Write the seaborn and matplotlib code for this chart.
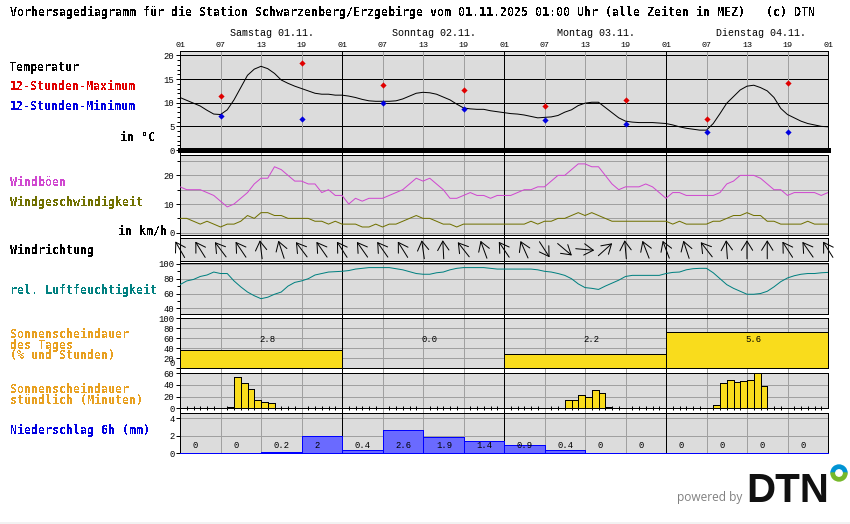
import numpy as np
import seaborn as sns
from matplotlib import pyplot as plt
from matplotlib.patches import Wedge, Circle

sns.set_theme(style="white")
plt.rcParams["font.family"] = ["DejaVu Sans Mono"]
plt.rcParams["text.color"] = "black"
plt.rcParams["ytick.labelcolor"] = "black"
plt.rcParams["lines.antialiased"] = False
plt.rcParams["patch.antialiased"] = False

W, H = 850, 524
X0, X1 = 180, 828
PX = 0.72  # one pixel in points
SMALL = "Liberation Mono"

hours = list(range(97))
temperature = [11.1, 10.5, 9.9, 9.3, 8.4, 7.6, 7.5, 8.5, 10.6, 13.2, 15.8, 17.1,
               17.7, 17.2, 16.2, 14.8, 14.1, 13.5, 13.0, 12.5, 12.0, 11.8, 11.8, 11.6,
               11.6, 11.4, 11.1, 10.7, 10.4, 10.3, 10.3, 10.3, 10.4, 10.8, 11.4, 12.0,
               12.2, 12.1, 11.8, 11.2, 10.6, 9.7, 8.9, 8.7, 8.6, 8.6, 8.3, 8.1,
               7.9, 7.7, 7.6, 7.4, 7.1, 6.8, 6.9, 7.0, 7.3, 8.0, 8.5, 9.4,
               9.9, 10.1, 10.1, 9.0, 7.9, 6.8, 6.1, 5.9, 5.8, 5.8, 5.8, 5.7,
               5.6, 5.3, 4.9, 4.6, 4.4, 4.2, 4.2, 5.6, 7.7, 9.9, 11.3, 12.7,
               13.5, 13.7, 13.2, 12.5, 11.1, 8.8, 7.5, 6.8, 6.1, 5.6, 5.3, 5.0, 4.9]
extreme_hours = [6, 18, 30, 42, 54, 66, 78, 90]
temp_max = [11.5, 18.3, 13.7, 12.6, 9.4, 10.5, 6.5, 14.1]
temp_min = [7.1, 6.5, 9.9, 8.6, 6.3, 5.6, 3.9, 3.9]

gusts = [16, 15, 15, 15, 14, 13, 11, 9, 10, 12, 14, 17,
         19, 19, 23, 22, 20, 18, 18, 17, 17, 14, 15, 13,
         13, 10, 12, 11, 12, 12, 12, 13, 14, 15, 17, 19,
         18, 19, 17, 15, 12, 12, 13, 14, 13, 13, 12, 13,
         13, 13, 14, 15, 15, 16, 16, 18, 20, 20, 22, 24,
         24, 23, 23, 20, 17, 15, 16, 16, 16, 17, 16, 14,
         12, 14, 14, 13, 13, 13, 13, 13, 14, 17, 18, 20,
         20, 20, 19, 17, 15, 15, 13, 14, 14, 14, 14, 13, 14]
wind_speed = [5, 5, 4, 3, 4, 3, 2, 3, 3, 4, 6, 5,
              7, 7, 6, 6, 5, 5, 5, 5, 4, 4, 3, 4,
              3, 3, 3, 2, 2, 3, 2, 3, 3, 4, 5, 6,
              5, 5, 4, 3, 3, 2, 3, 3, 3, 3, 3, 3,
              3, 3, 3, 3, 4, 3, 4, 4, 5, 5, 6, 7,
              6, 7, 6, 5, 4, 4, 4, 4, 4, 4, 4, 4,
              4, 3, 4, 3, 3, 3, 3, 4, 4, 5, 6, 6,
              7, 6, 6, 4, 4, 3, 3, 3, 3, 4, 3, 3, 3]
arrow_hours = list(range(0, 97, 3))
wind_dir = [-30, -32, -37, -34, -7, -18, -37, -35, -33, -35, -35, -32, -8,
            -3, -38, -20, -34, -24, 147, 130, 95, 48, -5, -21, -21, -18,
            -38, -4, 0, 0, -33, -35, -32]
humidity = [72, 77, 79, 83, 85, 89, 87, 87, 77, 69, 62, 57,
            53, 55, 59, 62, 70, 75, 77, 80, 85, 87, 89, 89.5,
            90, 91, 93, 94, 95, 95, 95, 95, 93.5, 92, 89.5, 87,
            86, 86, 88, 89, 92, 94, 95, 95, 95, 95, 94, 93,
            93, 93, 93, 93, 93, 92, 90, 89, 87, 84.5, 80, 73,
            68, 67, 65.5, 70, 74, 78, 83, 84.5, 84.5, 84.5, 84.5, 84.5,
            87, 88.5, 89, 92, 93.5, 94, 94, 88, 80, 72, 67, 63,
            59, 59, 60, 63, 69, 76, 81, 84, 86, 87, 87, 88, 88.5]

day_starts = [0, 24, 48, 72]
day_names = ["Samstag 01.11.", "Sonntag 02.11.", "Montag 03.11.", "Dienstag 04.11."]
sun_day_pct = [36, 0, 28, 72]
sun_day_hours = ["2.8", "0.0", "2.2", "5.6"]

sun_hours = [7, 8, 9, 10, 11, 12, 13, 14,
             56, 57, 58, 59, 60, 61, 62, 63,
             79, 80, 81, 82, 83, 84, 85, 86, 87]
sun_minutes = [3, 53, 43, 33, 15, 10, 8.5, 1,
               1, 14, 15, 22, 20, 31, 26, 3,
               5, 43, 48, 45, 47, 48, 60, 39, 1]

rain_starts = list(range(0, 96, 6))
rain_mm = [0, 0, 0.2, 2, 0.4, 2.6, 1.9, 1.4, 0.9, 0.4, 0, 0, 0, 0, 0, 0]
rain_labels = ["0", "0", "0.2", "2", "0.4", "2.6", "1.9", "1.4", "0.9", "0.4",
               "0", "0", "0", "0", "0", "0"]
hour_labels = ["01", "07", "13", "19"] * 4 + ["01"]

BG = "#dcdcdc"
GRID = "#a0a0a0"
MAGENTA = "#d048d0"
OLIVE = "#707000"
TEAL = "#008080"
ORANGE = "#e8a020"
YELLOW = "#f9dc1c"
RAIN = "#6a6aff"

fig = plt.figure(figsize=(W / 100, H / 100), dpi=100)


def label(x, y, text, color="black", size=8.4, weight="bold", ha="left", **kw):
    fig.text(x / W, 1 - y / H, text, color=color, fontsize=size, fontweight=weight,
             ha=ha, va="center", antialiased=False, **kw)


def panel(top, bottom, ylim, majors=(), minors=(), grid=GRID):
    ax = fig.add_axes([X0 / W, 1 - bottom / H, (X1 - X0) / W, (bottom - top) / H])
    ax.set_facecolor(BG)
    ax.set_xlim(0, 96)
    ax.set_ylim(*ylim)
    for s in ax.spines.values():
        s.set_color("black")
        s.set_linewidth(PX)
    ax.set_xticks([])
    ax.set_yticks(list(majors))
    ax.set_yticks(list(minors), minor=True)
    ax.tick_params(axis="y", which="major", length=3, width=PX, color="black",
                   labelsize=6.4, pad=1, left=True, labelfontfamily=SMALL)
    ax.tick_params(axis="y", which="minor", length=2.5, width=PX, color="black", left=True)
    for v in majors:
        ax.axhline(v, color=grid, lw=PX, zorder=1)
    for h in range(0, 97, 6):
        black = h % 24 == 0
        ax.axvline(h, color="black" if black else GRID, lw=PX, zorder=1.2 if black else 1)
    return ax


def line(ax, y, color):
    # sloped lines come out two pixels wide when aliased, so these stay smooth
    sns.lineplot(ax=ax, x=hours, y=y, color=color, lw=PX, estimator=None, errorbar=None,
                 zorder=3, antialiased=True)


# vertical lines also run through the white gaps
bg = fig.add_axes([X0 / W, 1 - 453.3 / H, (X1 - X0) / W, (453.3 - 50.7) / H], zorder=-1)
bg.set_xlim(0, 96)
bg.axis("off")
for h in range(0, 97, 6):
    bg.axvline(h, color="black" if h % 24 == 0 else GRID, lw=PX)

# temperature
ax_t = panel(50.7, 150, (0, 21), majors=[0, 5, 10, 15, 20], grid="black",
             minors=[v for v in range(1, 21) if v % 5])
line(ax_t, temperature, "black")
sns.scatterplot(ax=ax_t, x=extreme_hours, y=temp_max, color="#e00000", marker="D", s=10,
                linewidth=0, zorder=4)
sns.scatterplot(ax=ax_t, x=extreme_hours, y=temp_min, color="#0000e0", marker="D", s=10,
                linewidth=0, zorder=4)
ax_t.spines["bottom"].set_linewidth(2.2)
for h, txt in zip(range(0, 97, 6), hour_labels):
    ax_t.text(h, 1.015, txt, transform=ax_t.get_xaxis_transform(), ha="center", va="bottom",
              fontsize=6, family=SMALL)
for start, name, shift in zip(day_starts, day_names, [13.6, 13.6, 13.6, 14]):
    ax_t.text(start + shift, 1.125, name, transform=ax_t.get_xaxis_transform(), ha="center",
              va="bottom", fontsize=7.2, family=SMALL)

# wind
ax_w = panel(155, 235.3, (-0.9, 27.1), majors=[0, 10, 20], minors=[5, 15, 25])
ax_w.axhline(5, color=GRID, lw=PX, zorder=1)
ax_w.axhline(15, color=GRID, lw=PX, zorder=1)
ax_w.axhline(25, color=GRID, lw=PX, zorder=1)
line(ax_w, gusts, MAGENTA)
line(ax_w, wind_speed, OLIVE)

# wind direction, y axis is in pixels here so the arrows keep their length
ax_d = panel(238.3, 260.7, (-11.2, 11.2))
half = 9.3
for h, deg in zip(arrow_hours, wind_dir):
    dx = np.sin(np.radians(deg)) * half / 6.75
    dy = np.cos(np.radians(deg)) * half
    ax_d.annotate("", xy=(h + dx, dy), xytext=(h - dx, -dy), annotation_clip=False, zorder=5,
                  arrowprops=dict(arrowstyle="->,head_length=0.55,head_width=0.34",
                                  mutation_scale=12, color="black", lw=PX, antialiased=True,
                                  shrinkA=0, shrinkB=0))

# humidity
ax_h = panel(263.3, 313.5, (33, 100.8), majors=[40, 60, 80, 100], minors=[50, 70, 90])
line(ax_h, humidity, TEAL)

# sunshine per day
ax_s = panel(318.3, 368.3, (0, 100), majors=[0, 20, 40, 60, 80, 100])
sns.histplot(ax=ax_s, x=day_starts, weights=sun_day_pct, bins=list(range(0, 97, 24)),
             color=YELLOW, edgecolor="black", linewidth=PX, alpha=1, zorder=3)
for start, txt in zip(day_starts, sun_day_hours):
    ax_s.text(start + 13, 57, txt, ha="center", va="center", fontsize=6.4, zorder=6, family=SMALL)
ax_s.set_ylabel("")
# the 0 sits right on top of the 60 of the panel below
ax_s.get_yticklabels()[0].set_verticalalignment("bottom")

# sunshine per hour
ax_m = panel(373.3, 408.3, (0, 60), majors=[0, 20, 40, 60])
sns.histplot(ax=ax_m, x=sun_hours, weights=sun_minutes, bins=list(range(0, 97)),
             color=YELLOW, edgecolor="black", linewidth=PX, alpha=1, zorder=3)
ax_m.set_ylabel("")
ax_m.set_ylim(0, 60)
ax_m.set_xticks([h for h in range(97) if h % 6], minor=True)
ax_m.tick_params(axis="x", which="minor", direction="inout", length=3, width=PX, color="black",
                 bottom=True)

# precipitation
ax_r = panel(413.3, 453.3, (0, 4.55), majors=[0, 2, 4])
sns.histplot(ax=ax_r, x=rain_starts, weights=rain_mm, bins=list(range(0, 97, 6)),
             color=RAIN, edgecolor="#0000ff", linewidth=PX, alpha=1, zorder=3)
ax_r.set_ylabel("")
ax_r.set_ylim(0, 4.55)
ax_r.set_xticks(range(0, 97, 6))
ax_r.set_xticklabels([])
ax_r.tick_params(axis="x", direction="in", length=2, width=PX, color="#0000ff", bottom=True)
ax_r.spines["bottom"].set_color("#0000ff")
for start, txt in zip(rain_starts, rain_labels):
    ax_r.text(start + 1.9, 0.93, txt, ha="left", va="center", fontsize=6.4, zorder=6, family=SMALL)

for ax in (ax_m, ax_r, ax_s):
    ax.set_xlim(0, 96)

# left hand texts
label(10, 12, "Vorhersagediagramm für die Station Schwarzenberg/Erzgebirge vom 01.11.2025 "
              "01:00 Uhr (alle Zeiten in MEZ)   (c) DTN")
label(10, 67, "Temperatur")
label(10, 87, "12-Stunden-Maximum", "#e00000")
label(10, 107, "12-Stunden-Minimum", "#0000e0")
label(120, 137, "in °C")
label(10, 182, "Windböen", MAGENTA)
label(10, 202, "Windgeschwindigkeit", OLIVE)
label(118, 231, "in km/h")
label(10, 250, "Windrichtung")
label(10, 290, "rel. Luftfeuchtigkeit", TEAL)
label(10, 345, "Sonnenscheindauer\ndes Tages\n(% und Stunden)", ORANGE, linespacing=0.72)
label(10, 395, "Sonnenscheindauer\nstündlich (Minuten)", ORANGE, linespacing=0.72)
label(10, 430, "Niederschlag 6h (mm)", "#0000e0")

# logo
fig.text(677 / W, 1 - 497 / H, "powered by", color="#808080", fontsize=8.6,
         family="Open Sans", ha="left", va="center")
fig.text(746 / W, 1 - 502 / H, "DTN", color="#111111", fontsize=29, fontweight="bold",
         family="Liberation Sans", ha="left", va="baseline")
logo = fig.add_axes([0, 0, 1, 1], zorder=10)
logo.set_xlim(0, W)
logo.set_ylim(H, 0)
logo.axis("off")
logo.add_patch(Wedge((839, 473), 8, 180, 360, color="#0094d4", antialiased=True))
logo.add_patch(Wedge((839, 473), 8, 0, 180, color="#76b82a", antialiased=True))
logo.add_patch(Circle((839, 473), 3.2, color="white", antialiased=True))
logo.axhspan(522.5, 524, color="#f2f2f2")

plt.savefig("out.png", dpi=100)
